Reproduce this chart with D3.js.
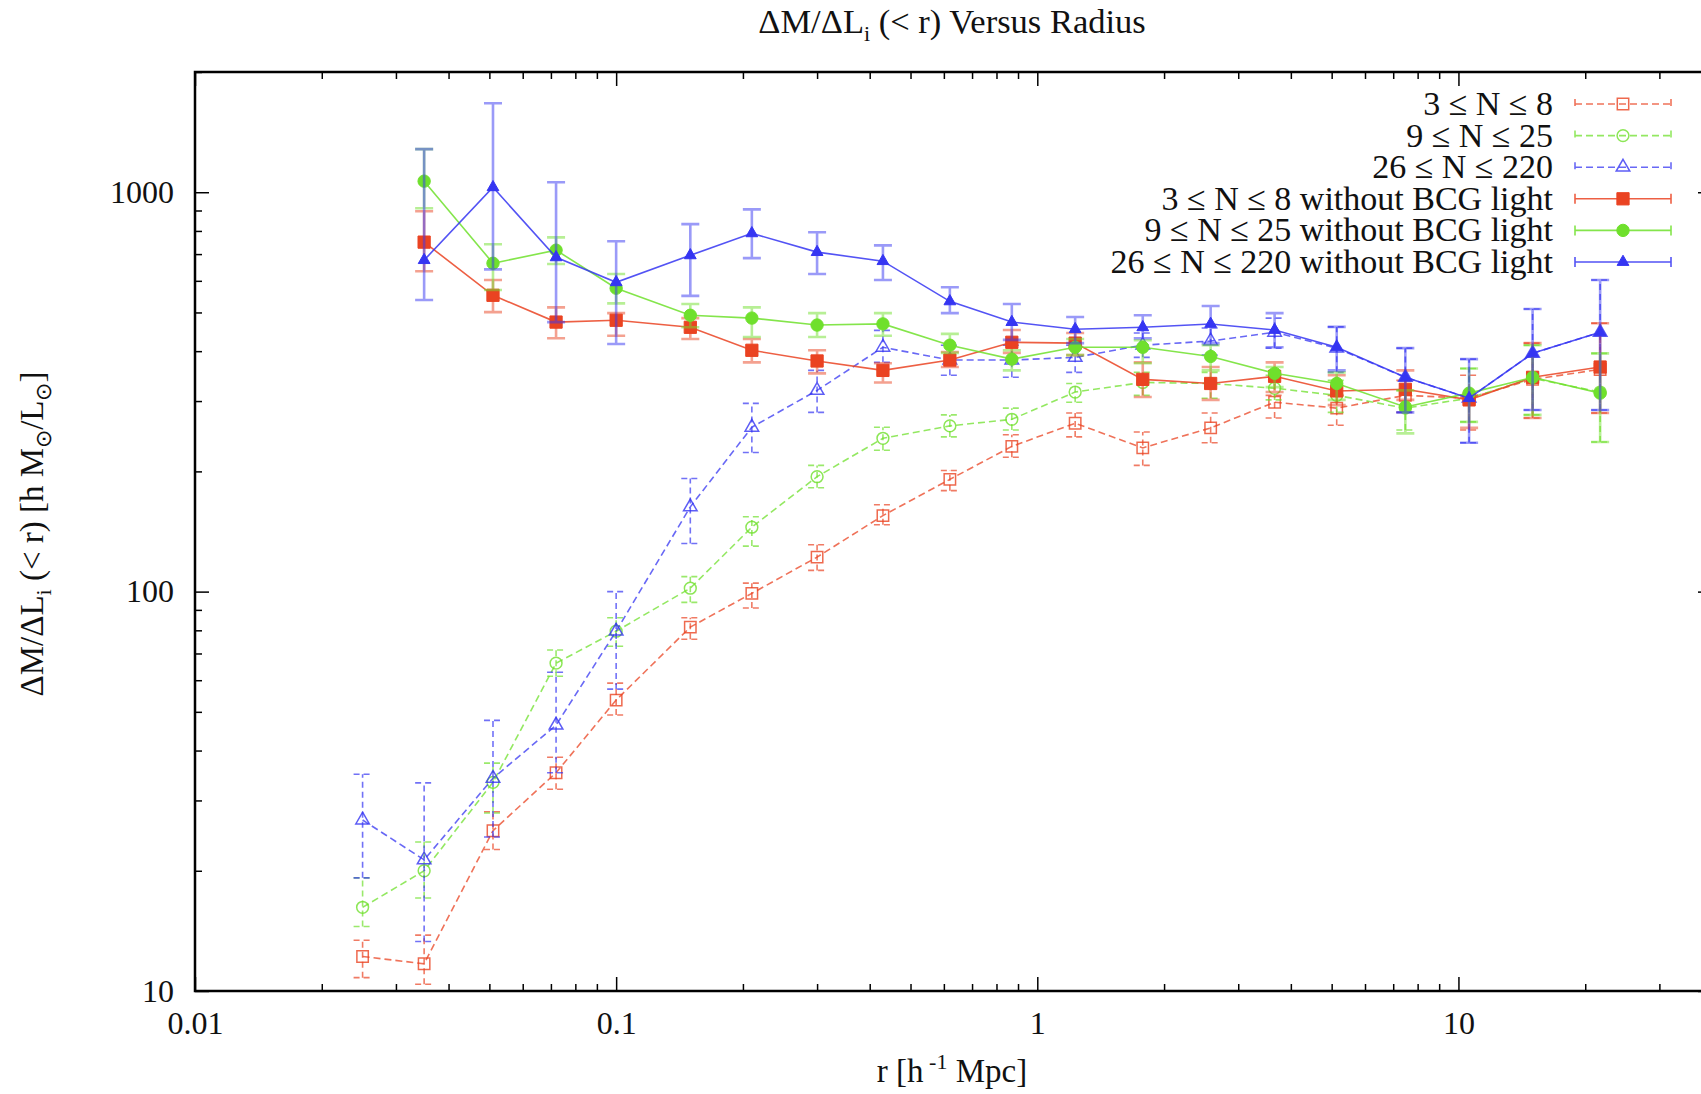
<!DOCTYPE html>
<head>
<meta charset="utf-8">
<title>Mass to light ratio versus radius</title>
<script src="https://d3js.org/d3.v7.min.js"></script>
<style>
body { margin: 0; background: #fff; }
text { font-family: "Liberation Serif", "Times New Roman", serif; fill: #111; }
/* axes */
.tick line { stroke: #000; stroke-width: 1.5; }
.tick text { font-size: 32px; }
.frame { stroke: #000; stroke-width: 2.5; }
.title { font-size: 34.5px; }
.axis-label { font-size: 33px; }
.legend text { font-size: 34px; }
</style>
</head>
<body>
<script>
//-----------------------------DATA-----------------------------//
const radius = [0.025, 0.035, 0.051, 0.072, 0.1, 0.15, 0.21, 0.3, 0.43, 0.62,
                0.87, 1.23, 1.78, 2.58, 3.66, 5.14, 7.48, 10.6, 15.0, 21.7];
// the "without BCG light" series start at the second radius
const radiusNoBcg = radius.slice(1);

const legendLabels = ["3 \u2264 N \u2264 8", "9 \u2264 N \u2264 25", "26 \u2264 N \u2264 220",
    "3 \u2264 N \u2264 8 without BCG light", "9 \u2264 N \u2264 25 without BCG light",
    "26 \u2264 N \u2264 220 without BCG light"];

// 3 <= N <= 8
const small = [12.2, 11.7, 25.2, 35.2, 53.5, 81.5, 99, 122, 155, 191, 231, 264, 229, 257, 298, 288, 310, 305, 340, 360];
const smallLo = [10.8, 10.4, 22.6, 32.0, 49.1, 76, 91, 113, 147, 179, 217, 244, 207, 236, 272, 261, 281, 254, 272, 280];
const smallHi = [13.4, 13.8, 28.1, 38.5, 59.0, 86, 105, 131, 165, 201, 247, 280, 251, 280, 310, 310, 338, 348, 419, 470];
// 9 <= N <= 25
const medium = [16.2, 20.0, 33.3, 66.2, 79.6, 102, 145, 194, 242, 260, 270, 316, 334, 332, 323, 310, 288, 305, 342, 316];
const mediumLo = [14.5, 17.1, 27.9, 61.4, 73, 94, 130, 182, 226, 244, 254, 298, 310, 305, 302, 281, 254, 266, 277, 237];
const mediumHi = [19.2, 23.6, 37.2, 71.4, 86, 109, 154, 207, 258, 277, 288, 332, 354, 354, 348, 338, 319, 362, 414, 395];
// 26 <= N <= 220
const large = [26.8, 21.3, 34.1, 46.3, 79.6, 163, 258, 319, 409, 380, 380, 386, 414, 424, 446, 407, 344, 305, 395, 446];
const largeLo = [19.2, 13.3, 24.3, 35.2, 57, 132, 223, 281, 375, 348, 344, 354, 386, 391, 407, 354, 281, 236, 285, 285];
const largeHi = [34.9, 33.2, 47.6, 62.8, 100, 192, 296, 358, 451, 414, 414, 414, 444, 457, 484, 460, 407, 382, 510, 603];

// without BCG light
const smallNoBcg = [750, 552, 473, 478, 459, 402, 378, 358, 380, 421, 419, 340, 332, 346, 318, 321, 302, 344, 365];
const smallNoBcgLo = [634, 501, 431, 437, 429, 375, 352, 334, 365, 396, 391, 307, 302, 316, 293, 302, 257, 272, 280];
const smallNoBcgHi = [896, 603, 515, 498, 484, 429, 402, 373, 398, 452, 444, 375, 365, 375, 348, 358, 310, 419, 470];

const mediumNoBcg = [1066, 664, 716, 575, 492, 484, 465, 468, 414, 382, 409, 409, 388, 352, 332, 290, 314, 344, 314];
const mediumNoBcgLo = [912, 569, 661, 527, 459, 434, 434, 437, 396, 358, 391, 373, 358, 325, 302, 249, 266, 277, 237];
const mediumNoBcgHi = [1282, 741, 771, 624, 525, 515, 498, 498, 442, 402, 429, 426, 414, 365, 354, 319, 362, 414, 395];

const largeNoBcg = [676, 1029, 687, 595, 695, 789, 708, 672, 533, 473, 454, 459, 468, 452, 409, 344, 305, 395, 446];
const largeNoBcgLo = [537, 641, 473, 417, 550, 684, 624, 603, 498, 427, 419, 431, 419, 409, 358, 281, 236, 285, 285];
const largeNoBcgHi = [1282, 1670, 1059, 754, 832, 906, 794, 736, 578, 525, 487, 492, 519, 498, 460, 407, 382, 510, 603];

const xTicks = [0.01, 0.1, 1, 10];
const xTickLabels = ["0.01", "0.1", "1", "10"];
const yTicks = [10, 100, 1000];
const yTickLabels = ["10", "100", "1000"];

//----------------------------STYLES----------------------------//
const red = "#ea4322", green = "#6fe02c", blue = "#3535f2";
const seriesColor = [red, green, blue, red, green, blue];
const seriesDashed = [true, true, true, false, false, false];
const seriesSymbol = [d3.symbolSquare, d3.symbolCircle, d3.symbolTriangle,
                      d3.symbolSquare, d3.symbolCircle, d3.symbolTriangle];
const seriesSymbolSize = [130, 110, 80, 150, 120, 60];

const series = [
    [radius, small, smallLo, smallHi],
    [radius, medium, mediumLo, mediumHi],
    [radius, large, largeLo, largeHi],
    [radiusNoBcg, smallNoBcg, smallNoBcgLo, smallNoBcgHi],
    [radiusNoBcg, mediumNoBcg, mediumNoBcgLo, mediumNoBcgHi],
    [radiusNoBcg, largeNoBcg, largeNoBcgLo, largeNoBcgHi]
].map(function(s, k) {
    return {
        id: legendLabels[k],
        k: k,
        values: s[1].map(function(v, i) {
            return {r: s[0][i], v: v, lo: s[2][i], hi: s[3][i]};
        })
    };
});

//-----------------------------SVG------------------------------//
const width = 1701;
const height = 1094;
const svg = d3.select("body").append("svg")
    .attr("width", width)
    .attr("height", height);

const plotLeft = 195, plotRight = 1712, plotTop = 72, plotBottom = 991;

const xScale = d3.scaleLog().domain([0.01, 40]).range([plotLeft, plotRight]);
const yScale = d3.scaleLog().domain([10, 2000]).range([plotBottom, plotTop]);

const xMinor = xScale.ticks().filter(function(d) { return xTicks.indexOf(d) < 0; });
const yMinor = yScale.ticks().filter(function(d) { return yTicks.indexOf(d) < 0; });

//-----------------------------AXES-----------------------------//
function noDomain(g) { g.select(".domain").remove(); }

svg.append("g").attr("transform", "translate(0," + plotBottom + ")")
    .call(d3.axisBottom(xScale).tickValues(xTicks).tickSize(-14).tickPadding(20)
        .tickFormat(function(d, i) { return xTickLabels[i]; }))
    .call(noDomain);
svg.append("g").attr("transform", "translate(0," + plotBottom + ")")
    .call(d3.axisBottom(xScale).tickValues(xMinor).tickSize(-7).tickFormat(""))
    .call(noDomain);
svg.append("g").attr("transform", "translate(0," + plotTop + ")")
    .call(d3.axisTop(xScale).tickValues(xTicks).tickSize(-14).tickFormat(""))
    .call(noDomain);
svg.append("g").attr("transform", "translate(0," + plotTop + ")")
    .call(d3.axisTop(xScale).tickValues(xMinor).tickSize(-7).tickFormat(""))
    .call(noDomain);

svg.append("g").attr("transform", "translate(" + plotLeft + ",0)")
    .call(d3.axisLeft(yScale).tickValues(yTicks).tickSize(-14).tickPadding(21)
        .tickFormat(function(d, i) { return yTickLabels[i]; }))
    .call(noDomain);
svg.append("g").attr("transform", "translate(" + plotLeft + ",0)")
    .call(d3.axisLeft(yScale).tickValues(yMinor).tickSize(-7).tickFormat(""))
    .call(noDomain);
svg.append("g").attr("transform", "translate(" + plotRight + ",0)")
    .call(d3.axisRight(yScale).tickValues(yTicks).tickSize(-14).tickFormat(""))
    .call(noDomain);
svg.append("g").attr("transform", "translate(" + plotRight + ",0)")
    .call(d3.axisRight(yScale).tickValues(yMinor).tickSize(-7).tickFormat(""))
    .call(noDomain);

// border
svg.append("path")
    .attr("class", "frame")
    .attr("fill", "none")
    .attr("d", "M" + plotRight + "," + plotTop + "H" + plotLeft + "V" + plotBottom + "H" + plotRight + "Z");

//----------------------------SERIES----------------------------//
const line = d3.line()
    .x(function(d) { return xScale(d.r); })
    .y(function(d) { return yScale(d.v); });

const groups = svg.selectAll(".serie")
    .data(series)
    .enter()
    .append("g")
    .attr("class", "serie");

// error bars
groups.each(function(s) {
    const g = d3.select(this);
    const dashed = seriesDashed[s.k];
    const bars = g.append("g")
        .attr("stroke", seriesColor[s.k])
        .attr("stroke-width", dashed ? 1.6 : 2.6)
        .attr("stroke-opacity", dashed ? 0.7 : 0.5)
        .attr("stroke-dasharray", dashed ? "6,4" : null)
        .attr("fill", "none");
    bars.selectAll("path")
        .data(s.values)
        .enter()
        .append("path")
        .attr("d", function(d) {
            const cx = xScale(d.r), y0 = yScale(d.lo), y1 = yScale(d.hi);
            return "M" + cx + "," + y0 + "V" + y1 +
                "M" + (cx - 9) + "," + y1 + "H" + (cx + 9) +
                "M" + (cx - 9) + "," + y0 + "H" + (cx + 9);
        });
});

groups.append("path")
    .attr("fill", "none")
    .attr("stroke", function(s) { return seriesColor[s.k]; })
    .attr("stroke-width", 1.6)
    .attr("stroke-opacity", function(s) { return seriesDashed[s.k] ? 0.75 : 0.85; })
    .attr("stroke-dasharray", function(s) { return seriesDashed[s.k] ? "7,4" : null; })
    .attr("d", function(s) { return line(s.values); });

function drawMarker(sel, k) {
    const filled = !seriesDashed[k];
    sel.attr("d", d3.symbol().type(seriesSymbol[k]).size(seriesSymbolSize[k]))
        .attr("fill", filled ? seriesColor[k] : "none")
        .attr("stroke", seriesColor[k])
        .attr("stroke-width", filled ? 1 : 1.5)
        .attr("stroke-opacity", filled ? 1 : 0.8);
}

groups.each(function(s) {
    d3.select(this).selectAll(".marker")
        .data(s.values)
        .enter()
        .append("path")
        .attr("class", "marker")
        .attr("transform", function(d) {
            return "translate(" + xScale(d.r) + "," + yScale(d.v) + ")";
        })
        .call(drawMarker, s.k);
});

//----------------------------LEGEND----------------------------//
const legendTop = 104, legendStep = 31.6;
const legend = svg.append("g").attr("class", "legend");
const rows = legend.selectAll("g")
    .data(series)
    .enter()
    .append("g")
    .attr("transform", function(s, i) {
        return "translate(0," + (legendTop + i * legendStep) + ")";
    });

rows.append("text")
    .attr("x", 1553)
    .attr("y", 11)
    .attr("text-anchor", "end")
    .text(function(s) { return s.id; });

rows.append("path")
    .attr("fill", "none")
    .attr("stroke", function(s) { return seriesColor[s.k]; })
    .attr("stroke-width", 1.6)
    .attr("stroke-opacity", function(s) { return seriesDashed[s.k] ? 0.75 : 0.85; })
    .attr("stroke-dasharray", function(s) { return seriesDashed[s.k] ? "7,4" : null; })
    .attr("d", "M1575,0H1671M1575,-5V5M1671,-5V5");

rows.each(function(s) {
    d3.select(this).append("path")
        .attr("transform", "translate(1623,0)")
        .call(drawMarker, s.k);
});

//----------------------------LABELS----------------------------//
const title = svg.append("text")
    .attr("class", "title")
    .attr("x", 952)
    .attr("y", 33)
    .attr("text-anchor", "middle");
title.append("tspan").text("\u0394M/\u0394L");
title.append("tspan").attr("dy", 8).attr("font-size", "22px").text("i");
title.append("tspan").attr("dy", -8).text(" (< r) Versus Radius");

const xLabel = svg.append("text")
    .attr("class", "axis-label")
    .attr("x", 952)
    .attr("y", 1082)
    .attr("text-anchor", "middle");
xLabel.append("tspan").text("r [h");
xLabel.append("tspan").attr("dy", -13).attr("font-size", "22px").text(" -1");
xLabel.append("tspan").attr("dy", 13).text(" Mpc]");

const yLabel = svg.append("text")
    .attr("class", "axis-label")
    .attr("transform", "translate(43,534) rotate(-90)")
    .attr("text-anchor", "middle");
yLabel.append("tspan").text("\u0394M/\u0394L");
yLabel.append("tspan").attr("dy", 8).attr("font-size", "22px").text("i");
yLabel.append("tspan").attr("dy", -8).text(" (< r) [h M");
yLabel.append("tspan").attr("dy", 8).attr("font-size", "22px").text("\u2299");
yLabel.append("tspan").attr("dy", -8).text("/L");
yLabel.append("tspan").attr("dy", 8).attr("font-size", "22px").text("\u2299");
yLabel.append("tspan").attr("dy", -8).text("]");
</script>
</body>
